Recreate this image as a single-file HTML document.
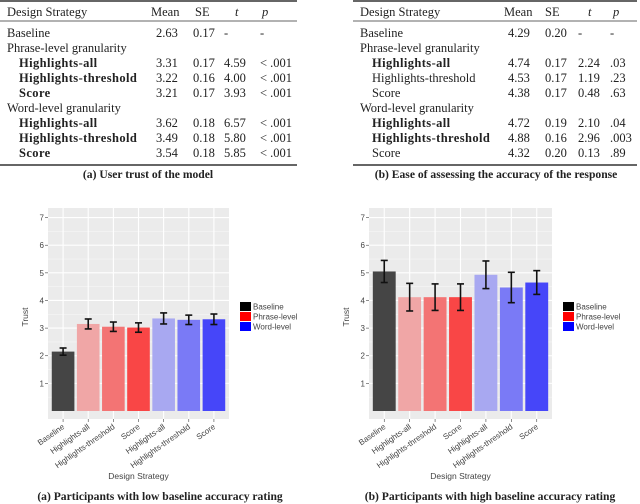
<!DOCTYPE html>
<html><head><meta charset="utf-8"><style>
body{margin:0;background:#fff;width:640px;height:504px;overflow:hidden}
svg{display:block}
.t{font-family:"Liberation Serif",serif;font-size:12.5px;fill:#222}
.b{font-weight:bold;letter-spacing:0.4px}
.cap{font-family:"Liberation Serif",serif;font-weight:bold;fill:#222;letter-spacing:0;font-size:11.6px}
.s{font-family:"Liberation Sans",sans-serif;fill:#444}
</style></head><body>
<svg id="svg" width="640" height="504"></svg>
<script>
const cats=["Baseline","Highlights-all","Highlights-threshold","Score","Highlights-all","Highlights-threshold","Score"];
const lowMeans=[2.15,3.15,3.05,3.02,3.35,3.3,3.32];
const lowErr=[0.13,0.18,0.17,0.17,0.2,0.17,0.19];
const highMeans=[5.05,4.12,4.12,4.12,4.93,4.47,4.65];
const highErr=[0.4,0.5,0.48,0.48,0.5,0.55,0.43];
const yTicks=[1,2,3,4,5,6,7];
const legendLabels=["Baseline","Phrase-level","Word-level"];
const tableA=[["Baseline","2.63","0.17","-","-",0,0],["Phrase-level granularity","","","","",0,0],["Highlights-all","3.31","0.17","4.59","< .001",1,1],["Highlights-threshold","3.22","0.16","4.00","< .001",1,1],["Score","3.21","0.17","3.93","< .001",1,1],["Word-level granularity","","","","",0,0],["Highlights-all","3.62","0.18","6.57","< .001",1,1],["Highlights-threshold","3.49","0.18","5.80","< .001",1,1],["Score","3.54","0.18","5.85","< .001",1,1]];
const tableB=[["Baseline","4.29","0.20","-","-",0,0],["Phrase-level granularity","","","","",0,0],["Highlights-all","4.74","0.17","2.24",".03",1,1],["Highlights-threshold","4.53","0.17","1.19",".23",1,0],["Score","4.38","0.17","0.48",".63",1,0],["Word-level granularity","","","","",0,0],["Highlights-all","4.72","0.19","2.10",".04",1,1],["Highlights-threshold","4.88","0.16","2.96",".003",1,1],["Score","4.32","0.20","0.13",".89",1,0]];
const colors=["#454545","#f0a6a6","#f37474","#f94646","#a8a8f1","#7a7af6","#4646f9"];
const NS="http://www.w3.org/2000/svg";
const svg=document.getElementById('svg');
function el(tag,attrs,parent,text){const e=document.createElementNS(NS,tag);for(const k in attrs)e.setAttribute(k,attrs[k]);if(text!==undefined)e.textContent=text;(parent||svg).appendChild(e);return e;}

function table(x0,x1,hcols,cols,rows,caption,capX,nm){
  const g=el('g',{});
  
  
  el('line',{x1:x0,x2:x1,y1:1,y2:1,stroke:'#333','stroke-width':1.5},g);
  el('line',{x1:x0,x2:x1,y1:21,y2:21,stroke:'#333','stroke-width':0.8},g);
  el('line',{x1:x0,x2:x1,y1:165,y2:165,stroke:'#333','stroke-width':1.5},g);
  const hdr=["Design Strategy","Mean","SE","t","p"];
  hdr.forEach((h,i)=>{el('text',{x:hcols[i],y:16,class:'t','font-style':i>=3?'italic':'normal'},g,h);});
  rows.forEach((r,j)=>{const y=37+j*15;
    el('text',{x:r[5]?cols[0]+12:cols[0],y:y,class:'t'+(r[6]?' b':'')},g,r[0]);
    for(let i=1;i<5;i++)el('text',{x:cols[i],y:y,class:'t'},g,r[i]);});
  const c=el('text',{x:capX,y:178,class:'cap','text-anchor':'middle'},g,caption);
  
  
}
table(0,297,[7,151,195,235,262],[7,156,193,224,260],tableA,"(a) User trust of the model",148,'table-user-trust');
table(353,637,[360,504,545,588,613],[360,508,545,578,610],tableB,"(b) Ease of assessing the accuracy of the response",496,'table-ease-assessing');

function chart(px0,px1,means,errs,nm,caption,labX,capX){
  const g=el('g',{});
  
  
  const top=208,bot=419,zeroY=411,unit=27.63;
  const y=v=>zeroY-v*unit;
  const step=(px1-px0)/7.2;
  const x=i=>px0+step*(0.6+i);
  el('rect',{x:px0,y:top,width:px1-px0,height:bot-top,fill:'#ebebeb'},g);
  for(let v=0.5;v<7.5;v+=1)el('line',{x1:px0,x2:px1,y1:y(v),y2:y(v),stroke:'#f6f6f6','stroke-width':0.6},g);
  yTicks.forEach(v=>{el('line',{x1:px0,x2:px1,y1:y(v),y2:y(v),stroke:'#fff','stroke-width':1.1},g);
    el('line',{x1:px0-3,x2:px0,y1:y(v),y2:y(v),stroke:'#444','stroke-width':0.6},g);
    el('text',{x:px0-4,y:y(v)+3,class:'s','font-size':'8px','text-anchor':'end'},g,v);});
  cats.forEach((c,i)=>{el('line',{x1:x(i),x2:x(i),y1:top,y2:bot,stroke:'#fff','stroke-width':1.1},g);});
  const bw=step*0.9;
  cats.forEach((c,i)=>{
    const r=el('rect',{x:x(i)-bw/2,y:y(means[i]),width:bw,height:zeroY-y(means[i]),fill:colors[i]},g);
    
    
    const eg=el('g',{stroke:'#111','stroke-width':1.6},g);
    
    
    const a=y(means[i]+errs[i]),b=y(means[i]-errs[i]);
    el('line',{x1:x(i),x2:x(i),y1:a,y2:b},eg);
    el('line',{x1:x(i)-3.5,x2:x(i)+3.5,y1:a,y2:a},eg);
    el('line',{x1:x(i)-3.5,x2:x(i)+3.5,y1:b,y2:b},eg);
    el('line',{x1:x(i),x2:x(i),y1:bot,y2:bot+3,stroke:'#444','stroke-width':0.6},g);
    const t=el('text',{x:x(i)+2,y:bot+9,class:'s','font-size':'8px','text-anchor':'end',transform:`rotate(-35 ${x(i)+2} ${bot+9})`},g,c);
    
    
  });
  const yt=el('text',{x:px0-20,y:317,class:'s','font-size':'8.5px','text-anchor':'middle',transform:`rotate(-90 ${px0-20} 317)`},g,'Trust');
  
  
  const xt=el('text',{x:(px0+px1)/2,y:479,class:'s','font-size':'8.5px','text-anchor':'middle',fill:'#222'},g,'Design Strategy');
  
  
  const lc=["#000","#ff0000","#0000ff"];
  legendLabels.forEach((l,i)=>{const lg=el('g',{},g);
    
    
    el('rect',{x:labX,y:302+i*10,width:11,height:9,fill:lc[i]},lg);
    el('text',{x:labX+13,y:309.5+i*10,class:'s','font-size':'8px',fill:'#222'},lg,l);});
  const cp=el('text',{x:capX,y:500,class:'cap','text-anchor':'middle'},g,caption);
  
  
}
chart(48,229,lowMeans,lowErr,'chart-low-baseline',"(a) Participants with low baseline accuracy rating",240,160);
chart(369,552,highMeans,highErr,'chart-high-baseline',"(b) Participants with high baseline accuracy rating",563,490);
</script>
</body></html>
